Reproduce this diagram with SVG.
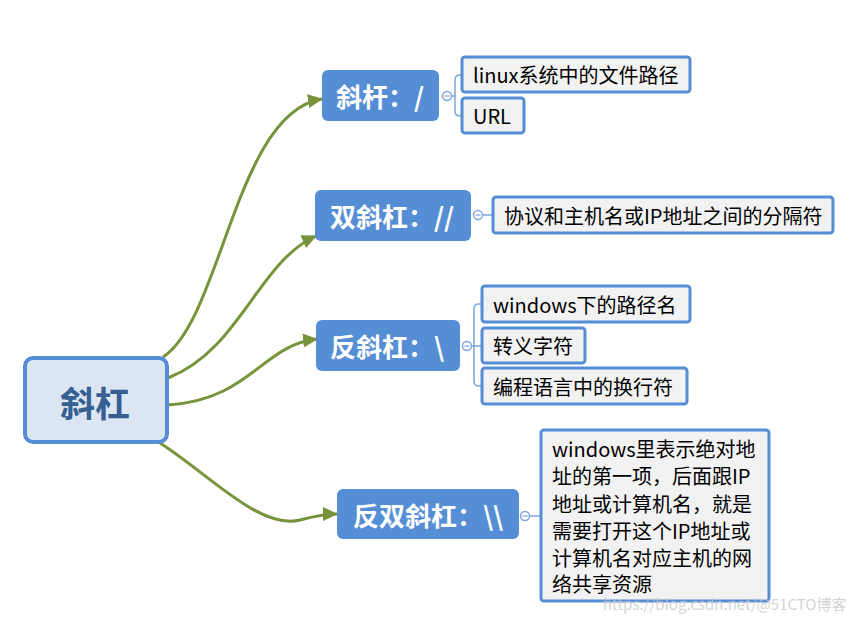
<svg xmlns="http://www.w3.org/2000/svg" width="853" height="620" viewBox="0 0 853 620">
<defs>
<marker id="arr" markerUnits="userSpaceOnUse" markerWidth="16" markerHeight="14" refX="14" refY="7" orient="auto">
<path d="M0,0 L15,7 L0,14 z" fill="#77933c"/>
</marker>
<style>
.conn{fill:none;stroke:#77933c;stroke-width:3;}
.main rect{fill:#558ed5;}
.main text{fill:#ffffff;font-family:"Noto Sans CJK SC","Liberation Sans",sans-serif;font-weight:bold;font-size:26px;text-anchor:middle;dominant-baseline:central;}
.leaf rect{fill:#f2f2f2;stroke:#558ed5;stroke-width:3;}
.leaf text{fill:#000000;font-family:"Noto Sans CJK SC","Liberation Sans",sans-serif;font-size:20px;dominant-baseline:central;}
.br{fill:none;stroke:#7ea6dc;stroke-width:1.5;}
.col{fill:#ffffff;stroke:#7ea6dc;stroke-width:1.5;}
</style>
</defs>
<rect width="853" height="620" fill="#ffffff"/>

<g id="connectors">
<path class="conn" d="M163,357 C222,318 236,112 322,99" marker-end="url(#arr)"/>
<path class="conn" d="M168,378 C240,350 258,262 316,236" marker-end="url(#arr)"/>
<path class="conn" d="M168,405 C250,400 262,345 317,339" marker-end="url(#arr)"/>
<path class="conn" d="M160,443 C210,475 260,530 300,520 C315,516 325,514 337,514" marker-end="url(#arr)"/>
<path class="br" d="M452,96 L455,96 M462,75 L460,75 Q455,75 455,80 L455,111 Q455,116 460,116 L462,116"/>
<path class="br" d="M483,215 L493,215"/>
<path class="br" d="M472,346 L474,346 M482,304 L479,304 Q474,304 474,309 L474,381 Q474,386 479,386 L482,386 M474,346 L482,346"/>
<path class="br" d="M530,516 L541,516"/>
</g>

<g id="root">
<rect x="25" y="358" width="142" height="84" rx="8" fill="#dce6f2" stroke="#558ed5" stroke-width="4"/>
<text x="95" y="401" fill="#376092" font-family="'Noto Sans CJK SC','Liberation Sans',sans-serif" font-weight="bold" font-size="35" text-anchor="middle" dominant-baseline="central">斜杠</text>
</g>

<g id="n1" class="main">
<rect x="322" y="70" width="117" height="51" rx="6"/>
<text x="380" y="95">斜杆：/</text>
<circle class="col" cx="447" cy="96" r="4.5"/>
<path d="M444.5,96 L449.5,96" stroke="#7ea6dc" stroke-width="1.2"/>
</g>
<g id="n1a" class="leaf">
<rect x="462" y="57" width="228" height="35" rx="3"/>
<text x="473" y="74.5">linux系统中的文件路径</text>
</g>
<g id="n1b" class="leaf">
<rect x="462" y="98" width="62" height="35" rx="3"/>
<text x="473" y="115.5">URL</text>
</g>

<g id="n2" class="main">
<rect x="315" y="190" width="156" height="51" rx="6"/>
<text x="392" y="215">双斜杠：//</text>
<circle class="col" cx="478" cy="215" r="4.5"/>
<path d="M475.5,215 L480.5,215" stroke="#7ea6dc" stroke-width="1.2"/>
</g>
<g id="n2a" class="leaf">
<rect x="493" y="197" width="340" height="36" rx="3"/>
<text x="504" y="215">协议和主机名或IP地址之间的分隔符</text>
</g>

<g id="n3" class="main">
<rect x="316" y="320" width="144" height="51" rx="6"/>
<text x="387" y="345">反斜杠：\</text>
<circle class="col" cx="467" cy="346" r="4.5"/>
<path d="M464.5,346 L469.5,346" stroke="#7ea6dc" stroke-width="1.2"/>
</g>
<g id="n3a" class="leaf">
<rect x="482" y="286" width="208" height="36" rx="3"/>
<text x="493" y="304">windows下的路径名</text>
</g>
<g id="n3b" class="leaf">
<rect x="482" y="328" width="103" height="35" rx="3"/>
<text x="493" y="345.5">转义字符</text>
</g>
<g id="n3c" class="leaf">
<rect x="482" y="368" width="205" height="36" rx="3"/>
<text x="493" y="386">编程语言中的换行符</text>
</g>

<g id="n4" class="main">
<rect x="337" y="489" width="182" height="50" rx="6"/>
<text x="428" y="514">反双斜杠：\\</text>
<circle class="col" cx="525" cy="516" r="4.5"/>
<path d="M522.5,516 L527.5,516" stroke="#7ea6dc" stroke-width="1.2"/>
</g>
<g id="n4a" class="leaf">
<rect x="541" y="430" width="228" height="171" rx="3"/>
<text x="552" y="448">windows里表示绝对地</text>
<text x="552" y="475.5">址的第一项，后面跟IP</text>
<text x="552" y="503">地址或计算机名，就是</text>
<text x="552" y="530">需要打开这个IP地址或</text>
<text x="552" y="557">计算机名对应主机的网</text>
<text x="552" y="583.5">络共享资源</text>
</g>

<text x="603" y="603" fill="#c8c8c8" fill-opacity="0.8" font-family="'Noto Sans CJK SC','Liberation Sans',sans-serif" font-size="15" dominant-baseline="central">https://blog.csdn.net/@51CTO博客</text>
</svg>
